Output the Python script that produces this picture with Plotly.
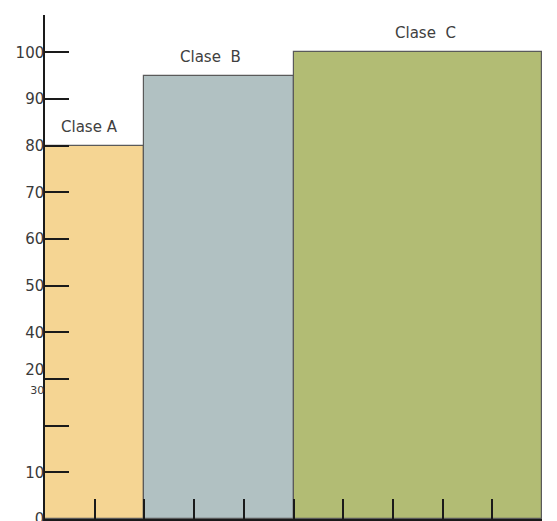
import plotly.graph_objects as go

classes = ["Clase A", "Clase\u00a0 B", "Clase\u00a0 C"]
x_start = [0, 20, 50]
x_width = [20, 30, 50]
heights = [80, 95, 100]
colors = ["#F5D593", "#B1C1C2", "#B2BC74"]

y_tickvals = [0, 10, 20, 30, 40, 50, 60, 70, 80, 90, 100]
y_ticktext = ["0", "10", "", "20<br><span style='font-size:11px'>30</span>",
              "40", "50", "60", "70", "80", "90", "100"]
x_tickvals = [0, 10, 20, 30, 40, 50, 60, 70, 80, 90, 100]

fig = go.Figure()
fig.add_trace(go.Bar(
    x=[s + w / 2 for s, w in zip(x_start, x_width)],
    y=heights,
    width=x_width,
    marker=dict(color=colors, line=dict(color="#5a5a5a", width=1.2)),
    showlegend=False,
    hoverinfo="skip",
))

xshifts = [-5, -8, 8]
for c, s, w, h, dx in zip(classes, x_start, x_width, heights, xshifts):
    fig.add_annotation(x=s + w / 2, y=h, text=c, showarrow=False,
                       yshift=19, xshift=dx,
                       font=dict(family="DejaVu Sans", size=15, color="#404040"))

# page body has an 8px default margin, so margins are shifted to compensate
fig.update_layout(
    width=557, height=521,
    margin=dict(l=37, r=23, t=7, b=10, autoexpand=False),
    paper_bgcolor="white", plot_bgcolor="white",
    bargap=0,
    font=dict(family="DejaVu Sans", size=15, color="#3a3a3a"),
)
fig.update_xaxes(
    range=[0, 100], tickvals=x_tickvals, showticklabels=False,
    ticks="inside", ticklen=20, tickwidth=1.5, tickcolor="#1a1a1a",
    showline=True, linecolor="#1a1a1a", linewidth=1.5,
    showgrid=False, zeroline=False, automargin=False,
)
fig.update_yaxes(
    range=[0, 108], tickvals=y_tickvals, ticktext=y_ticktext,
    ticks="inside", ticklen=24, tickwidth=1.5, tickcolor="#1a1a1a",
    showline=True, linecolor="#1a1a1a", linewidth=1.5,
    showgrid=False, zeroline=False, automargin=False,
    ticklabelstandoff=-4,
    tickfont=dict(family="DejaVu Sans", size=15, color="#3a3a3a"),
)
fig.write_html("out.html")
